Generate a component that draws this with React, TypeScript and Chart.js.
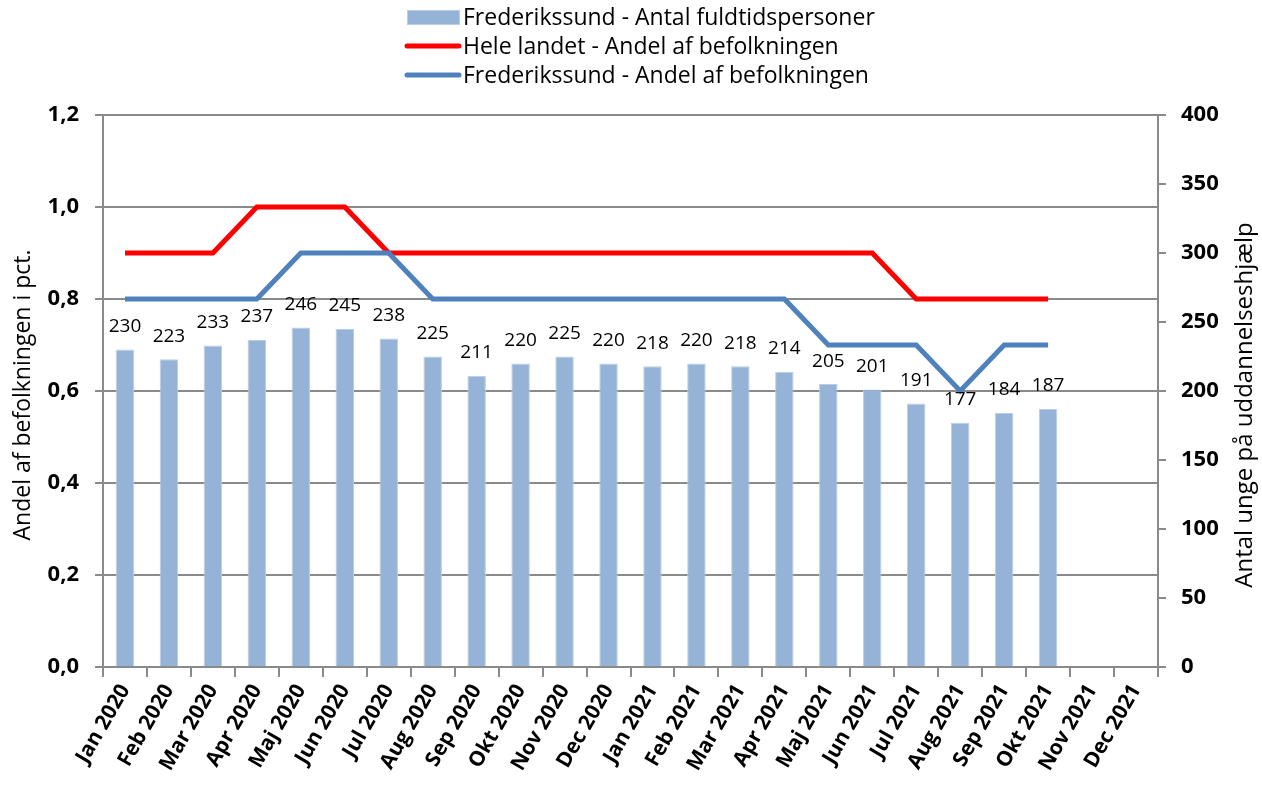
import React, { useEffect, useRef } from "react";
import { Chart, registerables } from "chart.js";

Chart.register(...registerables);

const categories = [
  "Jan 2020", "Feb 2020", "Mar 2020", "Apr 2020", "Maj 2020", "Jun 2020",
  "Jul 2020", "Aug 2020", "Sep 2020", "Okt 2020", "Nov 2020", "Dec 2020",
  "Jan 2021", "Feb 2021", "Mar 2021", "Apr 2021", "Maj 2021", "Jun 2021",
  "Jul 2021", "Aug 2021", "Sep 2021", "Okt 2021", "Nov 2021", "Dec 2021",
];

const fuldtidspersoner = [
  230, 223, 233, 237, 246, 245, 238, 225, 211, 220, 225, 220,
  218, 220, 218, 214, 205, 201, 191, 177, 184, 187, null, null,
];

const heleLandetAndel = [
  0.9, 0.9, 0.9, 1.0, 1.0, 1.0, 0.9, 0.9, 0.9, 0.9, 0.9, 0.9,
  0.9, 0.9, 0.9, 0.9, 0.9, 0.9, 0.8, 0.8, 0.8, 0.8, null, null,
];

const frederikssundAndel = [
  0.8, 0.8, 0.8, 0.8, 0.9, 0.9, 0.9, 0.8, 0.8, 0.8, 0.8, 0.8,
  0.8, 0.8, 0.8, 0.8, 0.7, 0.7, 0.7, 0.6, 0.7, 0.7, null, null,
];

const leftTitle = "Andel af befolkningen i pct.";
const rightTitle = "Antal unge på uddannelseshjælp";

const FONT = "'Open Sans', Lato, sans-serif";
const GRID = "#8a8a8a";

const legendItems = [
  { label: "Frederikssund - Antal fuldtidspersoner", type: "box", color: "#95B3D7", border: "#B9CDE5" },
  { label: "Hele landet - Andel af befolkningen", type: "line", color: "#FF0000" },
  { label: "Frederikssund - Andel af befolkningen", type: "line", color: "#4F81BD" },
];

const customPlugin = {
  id: "custom",
  afterDatasetsDraw(chart: any) {
    const ctx = chart.ctx;
    const meta = chart.getDatasetMeta(0);
    ctx.save();
    ctx.font = `19px ${FONT}`;
    ctx.fillStyle = "#000";
    ctx.textAlign = "center";
    ctx.textBaseline = "middle";
    meta.data.forEach((el: any, i: number) => {
      const v = fuldtidspersoner[i];
      if (v == null) return;
      ctx.fillText(String(v), el.x, el.y - 23);
    });
    ctx.restore();
  },
  afterDraw(chart: any) {
    const ctx = chart.ctx;
    const area = chart.chartArea;
    ctx.save();
    // legend
    ctx.font = `23px ${FONT}`;
    ctx.textBaseline = "middle";
    ctx.textAlign = "left";
    legendItems.forEach((it, i) => {
      const y = 17 + i * 29;
      if (it.type === "box") {
        ctx.fillStyle = it.color;
        ctx.fillRect(407, y - 7, 53, 15);
        ctx.strokeStyle = it.border as string;
        ctx.lineWidth = 1;
        ctx.strokeRect(407.5, y - 6.5, 52, 14);
      } else {
        ctx.strokeStyle = it.color;
        ctx.lineWidth = 5;
        ctx.lineCap = "round";
        ctx.beginPath();
        ctx.moveTo(407, y);
        ctx.lineTo(459, y);
        ctx.stroke();
      }
      ctx.fillStyle = "#000";
      ctx.fillText(it.label, 463, y + 1);
    });
    // axis titles
    const cy = (area.top + area.bottom) / 2;
    ctx.font = `23px ${FONT}`;
    ctx.textAlign = "center";
    ctx.textBaseline = "middle";
    ctx.translate(23, cy + 4);
    ctx.rotate(-Math.PI / 2);
    ctx.fillText(leftTitle, 0, 0);
    ctx.setTransform(1, 0, 0, 1, 0, 0);
    ctx.font = `24px ${FONT}`;
    ctx.translate(1245, cy + 14);
    ctx.rotate(-Math.PI / 2);
    ctx.fillText(rightTitle, 0, 0);
    ctx.restore();
  },
};

export default function App() {
  const ref = useRef<HTMLCanvasElement | null>(null);

  useEffect(() => {
    if (!ref.current) return;
    const chart = new Chart(ref.current, {
      type: "bar",
      data: {
        labels: categories,
        datasets: [
          {
            type: "bar",
            label: legendItems[0].label,
            data: fuldtidspersoner as any,
            yAxisID: "y2",
            backgroundColor: "#95B3D7",
            borderColor: "#B9CDE5",
            borderWidth: 1,
            categoryPercentage: 1,
            barPercentage: 0.42,
            order: 3,
          },
          {
            type: "line",
            label: legendItems[1].label,
            data: heleLandetAndel as any,
            yAxisID: "y",
            borderColor: "#FF0000",
            backgroundColor: "#FF0000",
            borderWidth: 5,
            pointRadius: 0,
            tension: 0,
            order: 2,
          },
          {
            type: "line",
            label: legendItems[2].label,
            data: frederikssundAndel as any,
            yAxisID: "y",
            borderColor: "#4F81BD",
            backgroundColor: "#4F81BD",
            borderWidth: 5,
            pointRadius: 0,
            tension: 0,
            order: 1,
          },
        ],
      },
      options: {
        responsive: false,
        animation: false,
        devicePixelRatio: 1,
        layout: { padding: { top: 115, left: 0, right: 0, bottom: 0 } },
        plugins: {
          legend: { display: false },
          tooltip: { enabled: false },
        },
        scales: {
          x: {
            offset: true,
            grid: {
              offset: true,
              drawOnChartArea: false,
              drawTicks: true,
              tickLength: 10,
              color: GRID,
              lineWidth: 2,
            },
            border: { display: true, color: GRID, width: 2 },
            ticks: {
              autoSkip: false,
              minRotation: 60,
              maxRotation: 60,
              padding: 3,
              color: "#000",
              font: { family: FONT, size: 21, weight: "bold" },
            },
            afterFit(scale: any) {
              scale.height = 122;
            },
          },
          y: {
            position: "left",
            min: 0,
            max: 1.2,
            ticks: {
              stepSize: 0.2,
              padding: 16,
              color: "#000",
              font: { family: FONT, size: 22, weight: "bold" },
              callback: (v: any) => Number(v).toFixed(1).replace(".", ","),
            },
            grid: {
              color: GRID,
              lineWidth: 2,
              tickLength: 8,
              drawTicks: true,
            },
            border: { display: true, color: GRID, width: 2 },
            afterFit(scale: any) {
              scale.width = 103;
            },
          },
          y2: {
            position: "right",
            min: 0,
            max: 400,
            ticks: {
              stepSize: 50,
              padding: 15,
              color: "#000",
              font: { family: FONT, size: 22, weight: "bold" },
            },
            grid: {
              drawOnChartArea: false,
              color: GRID,
              lineWidth: 2,
              tickLength: 8,
            },
            border: { display: true, color: GRID, width: 2 },
            afterFit(scale: any) {
              scale.width = 104;
            },
          },
        },
      },
      plugins: [customPlugin],
    });
    return () => chart.destroy();
  }, []);

  return (
    <div style={{ position: "fixed", left: 0, top: 0, width: 1262, height: 789, background: "#fff" }}>
      <canvas ref={ref} width={1262} height={789} style={{ width: 1262, height: 789, display: "block" }} />
    </div>
  );
}
